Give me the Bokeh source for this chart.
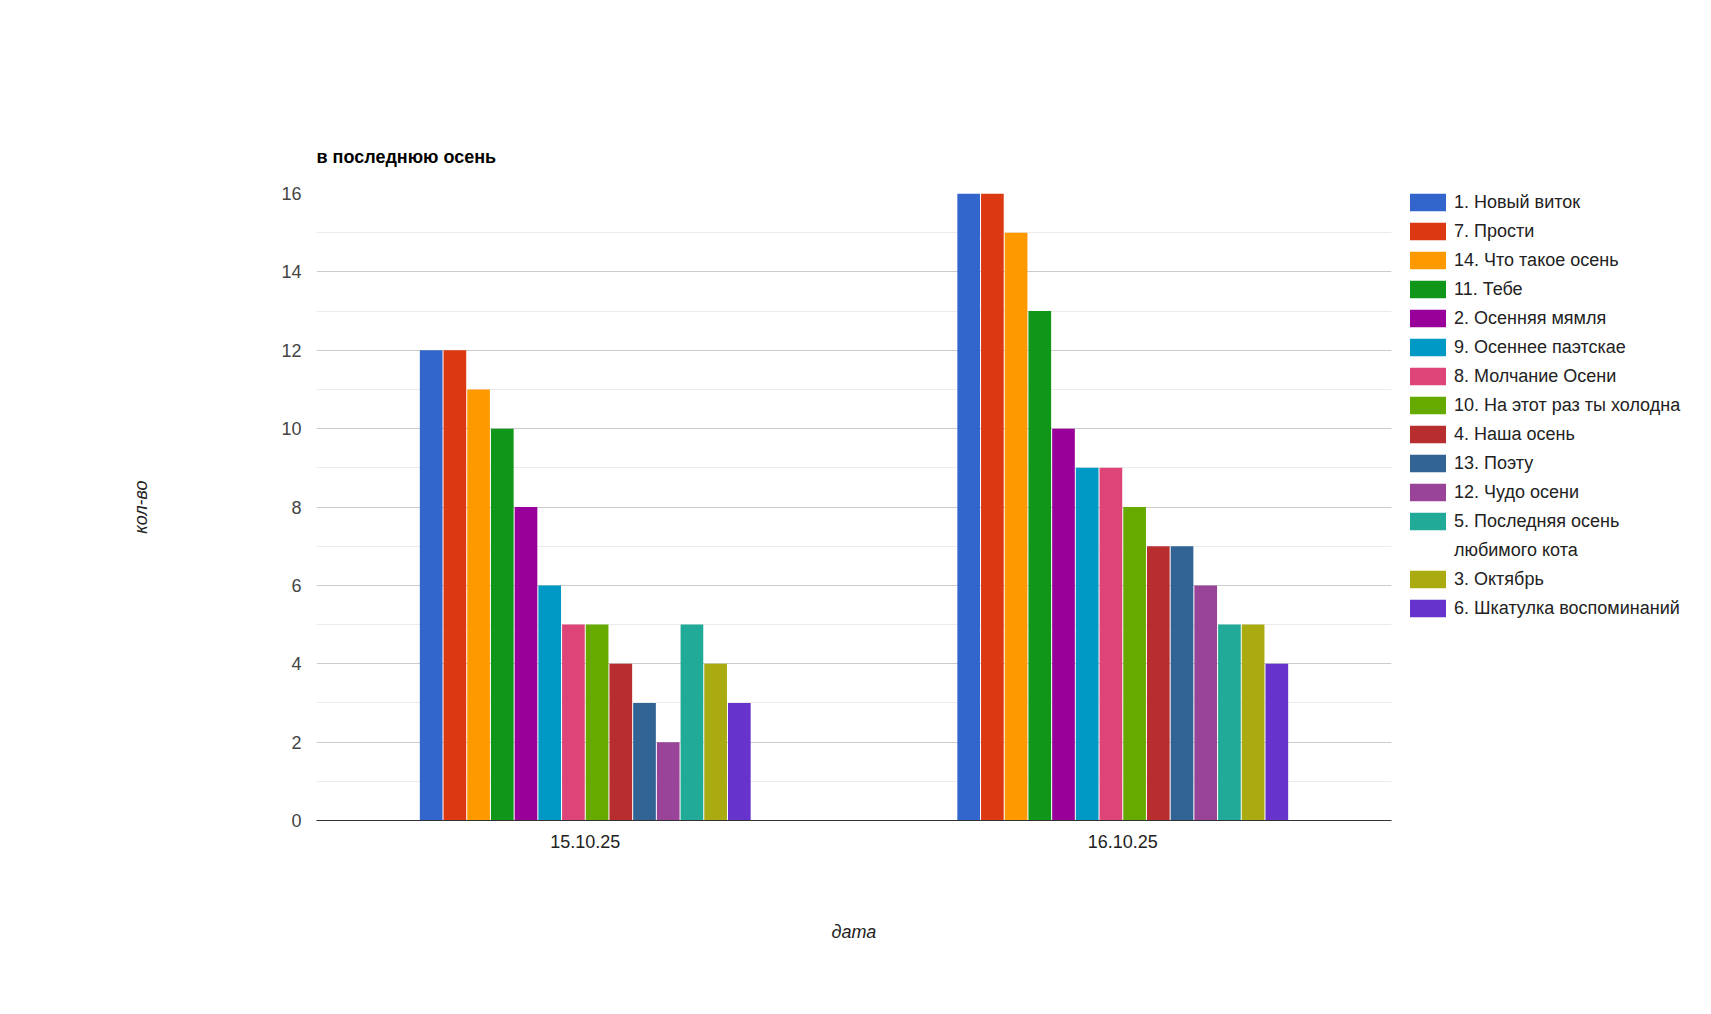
from bokeh.plotting import figure
from bokeh.models import ColumnDataSource, Legend, LegendItem, SingleIntervalTicker, Range1d, FactorRange
from bokeh.transform import dodge
from bokeh.embed import file_html
from bokeh.resources import INLINE

dates = ["15.10.25", "16.10.25"]
series_names = [
    "1. Новый виток",
    "7. Прости",
    "14. Что такое осень",
    "11. Тебе",
    "2. Осенняя мямля",
    "9. Осеннее паэтскае",
    "8. Молчание Осени",
    "10. На этот раз ты холодна",
    "4. Наша осень",
    "13. Поэту",
    "12. Чудо осени",
    "5. Последняя осень любимого кота",
    "3. Октябрь",
    "6. Шкатулка воспоминаний",
]
values_15_10 = [12, 12, 11, 10, 8, 6, 5, 5, 4, 3, 2, 5, 4, 3]
values_16_10 = [16, 16, 15, 13, 10, 9, 9, 8, 7, 7, 6, 5, 5, 4]
colors = ["#3366cc", "#dc3912", "#ff9900", "#109618", "#990099", "#0099c6", "#dd4477",
          "#66aa00", "#b82e2e", "#316395", "#994499", "#22aa99", "#aaaa11", "#6633cc"]

FONT = "Liberation Sans"
FS = "18px"

data = {"date": dates}
for i in range(len(series_names)):
    data[f"s{i}"] = [values_15_10[i], values_16_10[i]]
src = ColumnDataSource(data)

FW, FH = 1075, 627
p = figure(x_range=FactorRange(*dates), y_range=Range1d(0, 16),
           frame_width=FW, frame_height=FH, output_backend="svg", toolbar_location=None,
           min_border_left=316, min_border_right=300, min_border_top=193, min_border_bottom=180)

n = len(series_names)
pitch = 0.0441
bw = 0.0422
renderers = []
for i in range(n):
    off = (i - (n - 1) / 2) * pitch
    r = p.vbar(x=dodge("date", off, range=p.x_range), top=f"s{i}", width=bw, source=src,
               fill_color=colors[i], line_color=None)
    renderers.append(r)

# invisible renderer used only for the wrapped second line of one legend label
dummy = p.vbar(x=[], top=[], width=bw, fill_alpha=0, line_alpha=0)

wrap_idx = 11
first_line, second_line = "5. Последняя осень", "любимого кота"

items = [LegendItem(label=series_names[i], renderers=[renderers[i]]) for i in range(wrap_idx)]
items.append(LegendItem(label=first_line, renderers=[renderers[wrap_idx]]))
items.append(LegendItem(label=second_line, renderers=[dummy]))
items += [LegendItem(label=series_names[i], renderers=[renderers[i]]) for i in range(wrap_idx + 1, n)]

leg_h = len(items) * 24 + (len(items) - 1) * 5
legend = Legend(items=items, location=(14, FH + 3 - leg_h),
                glyph_width=45, glyph_height=22, label_height=24, label_standoff=4, spacing=5,
                padding=0, margin=0, label_text_font=FONT, label_text_font_size=FS,
                label_text_color="#222222", border_line_color=None, background_fill_alpha=0)
p.add_layout(legend, "right")

p.title.text = "в последнюю осень"
p.title.text_font = FONT
p.title.text_font_size = FS
p.title.text_font_style = "bold"
p.title.text_color = "#000000"
p.title.align = "left"
p.title.standoff = 53

ticker = SingleIntervalTicker(interval=2, num_minor_ticks=2)
p.yaxis.ticker = ticker
p.ygrid.ticker = ticker
p.yaxis.axis_line_color = None
p.yaxis.major_tick_line_color = None
p.yaxis.minor_tick_line_color = None
p.yaxis.major_tick_out = 0
p.yaxis.minor_tick_out = 0
p.yaxis.major_label_standoff = 15
p.yaxis.major_label_text_font = FONT
p.yaxis.major_label_text_font_size = FS
p.yaxis.major_label_text_color = "#444444"
p.yaxis.axis_label = "кол-во"
p.yaxis.axis_label_text_font = FONT
p.yaxis.axis_label_text_font_size = FS
p.yaxis.axis_label_text_font_style = "italic"
p.yaxis.axis_label_text_color = "#222222"
p.yaxis.axis_label_standoff = 127

p.xaxis.axis_line_color = "#333333"
p.xaxis.major_tick_line_color = None
p.xaxis.minor_tick_line_color = None
p.xaxis.major_tick_out = 0
p.xaxis.major_label_standoff = 14
p.xaxis.major_label_text_font = FONT
p.xaxis.major_label_text_font_size = FS
p.xaxis.major_label_text_color = "#222222"
p.xaxis.axis_label = "дата"
p.xaxis.axis_label_text_font = FONT
p.xaxis.axis_label_text_font_size = FS
p.xaxis.axis_label_text_font_style = "italic"
p.xaxis.axis_label_text_color = "#222222"
p.xaxis.axis_label_standoff = 71

p.xgrid.grid_line_color = None
p.ygrid.grid_line_color = "#cccccc"
p.ygrid.minor_grid_line_color = "#ebebeb"
p.outline_line_color = None
p.background_fill_color = "white"
p.border_fill_color = "white"

open("out.html", "w").write(file_html(p, INLINE))
